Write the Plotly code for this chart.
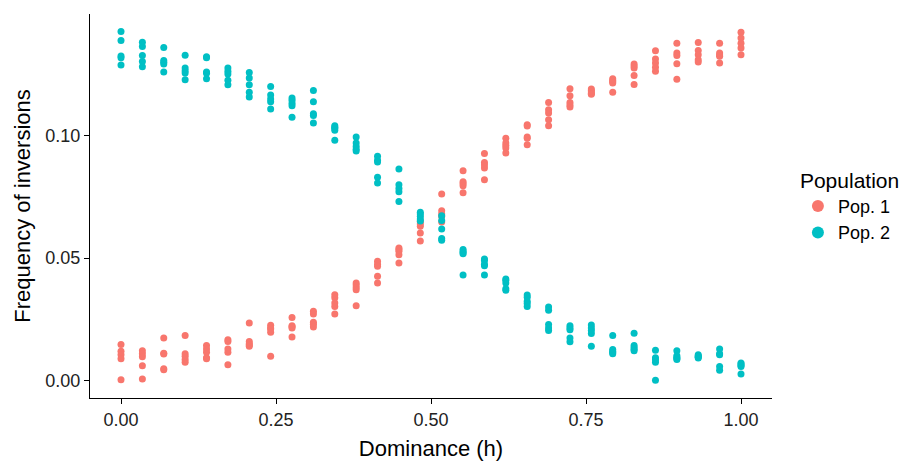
import plotly.graph_objects as go

h_levels = [i / 29 for i in range(30)]

pop1 = [
    [0.0147, 0.0120, 0.0106, 0.0089, 0.0004],
    [0.0122, 0.0110, 0.0097, 0.0061, 0.0007],
    [0.0174, 0.0112, 0.0109, 0.0048, 0.0044],
    [0.0184, 0.0110, 0.0099, 0.0086, 0.0075],
    [0.0143, 0.0129, 0.0116, 0.0093, 0.0089],
    [0.0167, 0.0160, 0.0129, 0.0116, 0.0065],
    [0.0235, 0.0160, 0.0151, 0.0145, 0.0140],
    [0.0226, 0.0215, 0.0211, 0.0197, 0.0099],
    [0.0258, 0.0224, 0.0220, 0.0215, 0.0178],
    [0.0283, 0.0272, 0.0238, 0.0230, 0.0219],
    [0.0351, 0.0338, 0.0317, 0.0303, 0.0272],
    [0.0399, 0.0390, 0.0380, 0.0371, 0.0306],
    [0.0487, 0.0475, 0.0467, 0.0426, 0.0399],
    [0.0542, 0.0535, 0.0528, 0.0514, 0.0480],
    [0.0650, 0.0640, 0.0630, 0.0603, 0.0570],
    [0.0762, 0.0694, 0.0680, 0.0670, 0.0648],
    [0.0857, 0.0812, 0.0805, 0.0796, 0.0767],
    [0.0927, 0.0891, 0.0880, 0.0868, 0.0820],
    [0.0990, 0.0970, 0.0960, 0.0950, 0.0929],
    [0.1045, 0.1040, 0.0995, 0.0990, 0.0963],
    [0.1136, 0.1106, 0.1093, 0.1065, 0.1041],
    [0.1192, 0.1163, 0.1136, 0.1125, 0.1117],
    [0.1191, 0.1185, 0.1178, 0.1172, 0.1169],
    [0.1233, 0.1225, 0.1220, 0.1215, 0.1177],
    [0.1293, 0.1285, 0.1276, 0.1246, 0.1209],
    [0.1347, 0.1313, 0.1297, 0.1280, 0.1263],
    [0.1378, 0.1338, 0.1328, 0.1294, 0.1231],
    [0.1381, 0.1348, 0.1331, 0.1310, 0.1301],
    [0.1378, 0.1338, 0.1330, 0.1324, 0.1297],
    [0.1422, 0.1399, 0.1378, 0.1358, 0.1331],
]

pop2 = [
    [0.1426, 0.1389, 0.1325, 0.1318, 0.1289],
    [0.1382, 0.1364, 0.1328, 0.1303, 0.1282],
    [0.1360, 0.1307, 0.1300, 0.1293, 0.1260],
    [0.1329, 0.1276, 0.1265, 0.1256, 0.1229],
    [0.1322, 0.1318, 0.1260, 0.1255, 0.1233],
    [0.1276, 0.1263, 0.1252, 0.1226, 0.1208],
    [0.1258, 0.1236, 0.1208, 0.1177, 0.1158],
    [0.1201, 0.1166, 0.1150, 0.1139, 0.1109],
    [0.1154, 0.1145, 0.1133, 0.1122, 0.1075],
    [0.1185, 0.1139, 0.1090, 0.1083, 0.1052],
    [0.1041, 0.1035, 0.1030, 0.1022, 0.0981],
    [0.0995, 0.0970, 0.0956, 0.0945, 0.0938],
    [0.0916, 0.0900, 0.0893, 0.0830, 0.0807],
    [0.0864, 0.0800, 0.0784, 0.0771, 0.0731],
    [0.0687, 0.0680, 0.0671, 0.0660, 0.0652],
    [0.0673, 0.0654, 0.0619, 0.0580, 0.0573],
    [0.0535, 0.0528, 0.0522, 0.0518, 0.0431],
    [0.0497, 0.0490, 0.0475, 0.0469, 0.0431],
    [0.0415, 0.0410, 0.0399, 0.0375, 0.0369],
    [0.0350, 0.0340, 0.0324, 0.0315, 0.0303],
    [0.0301, 0.0287, 0.0229, 0.0215, 0.0205],
    [0.0224, 0.0215, 0.0208, 0.0174, 0.0159],
    [0.0227, 0.0215, 0.0205, 0.0192, 0.0140],
    [0.0184, 0.0127, 0.0120, 0.0115, 0.0110],
    [0.0193, 0.0143, 0.0135, 0.0128, 0.0122],
    [0.0124, 0.0093, 0.0085, 0.0075, 0.0001],
    [0.0122, 0.0102, 0.0095, 0.0090, 0.0086],
    [0.0106, 0.0100, 0.0098, 0.0095, 0.0092],
    [0.0129, 0.0110, 0.0106, 0.0058, 0.0042],
    [0.0072, 0.0068, 0.0062, 0.0058, 0.0027],
]

series_names = ["Pop. 1", "Pop. 2"]
series_colors = ["#F8766D", "#00BFC4"]
x_ticks = [0, 0.25, 0.5, 0.75, 1.0]
x_tick_labels = ["0.00", "0.25", "0.50", "0.75", "1.00"]
y_ticks = [0, 0.05, 0.10]
y_tick_labels = ["0.00", "0.05", "0.10"]

fig = go.Figure()
for name, color, data in zip(series_names, series_colors, [pop1, pop2]):
    xs, ys = [], []
    for h, vals in zip(h_levels, data):
        for v in vals:
            xs.append(h)
            ys.append(v)
    fig.add_trace(go.Scatter(
        x=xs, y=ys, mode="markers", name=name,
        marker=dict(color=color, size=7, line=dict(width=0)),
    ))

FONT = "Liberation Sans, Arial, sans-serif"
# page body has an 8px margin, so the figure is 8px smaller and margins shifted
fig.update_layout(
    width=909, height=454,
    margin=dict(l=82, r=145, t=6, b=64, autoexpand=False),
    paper_bgcolor="white", plot_bgcolor="white",
    font=dict(family=FONT, color="black"),
    legend=dict(
        title=dict(text="Population", font=dict(size=21, color="black")),
        font=dict(size=18, color="black"),
        x=1.038, xanchor="left", y=0.5, yanchor="middle",
        itemsizing="constant", tracegroupgap=0,
    ),
    showlegend=True,
)
fig.update_xaxes(
    range=[-0.05, 1.05], tickvals=x_ticks, ticktext=x_tick_labels,
    showgrid=False, zeroline=False, showline=True, linecolor="black", linewidth=1.1,
    ticks="outside", ticklen=5, tickcolor="black", tickwidth=1,
    tickfont=dict(size=18, color="#222"), automargin=False,
    title=dict(text="Dominance (h)", font=dict(size=22, color="black"), standoff=11),
)
fig.update_yaxes(
    range=[-0.0071, 0.1497], tickvals=y_ticks, ticktext=y_tick_labels,
    showgrid=False, zeroline=False, showline=True, linecolor="black", linewidth=1.1,
    ticks="outside", ticklen=5, tickcolor="black", tickwidth=1,
    tickfont=dict(size=18, color="#222"), automargin=False,
    title=dict(text="Frequency of inversions", font=dict(size=22, color="black"), standoff=8),
)

fig.write_html("out.html")
